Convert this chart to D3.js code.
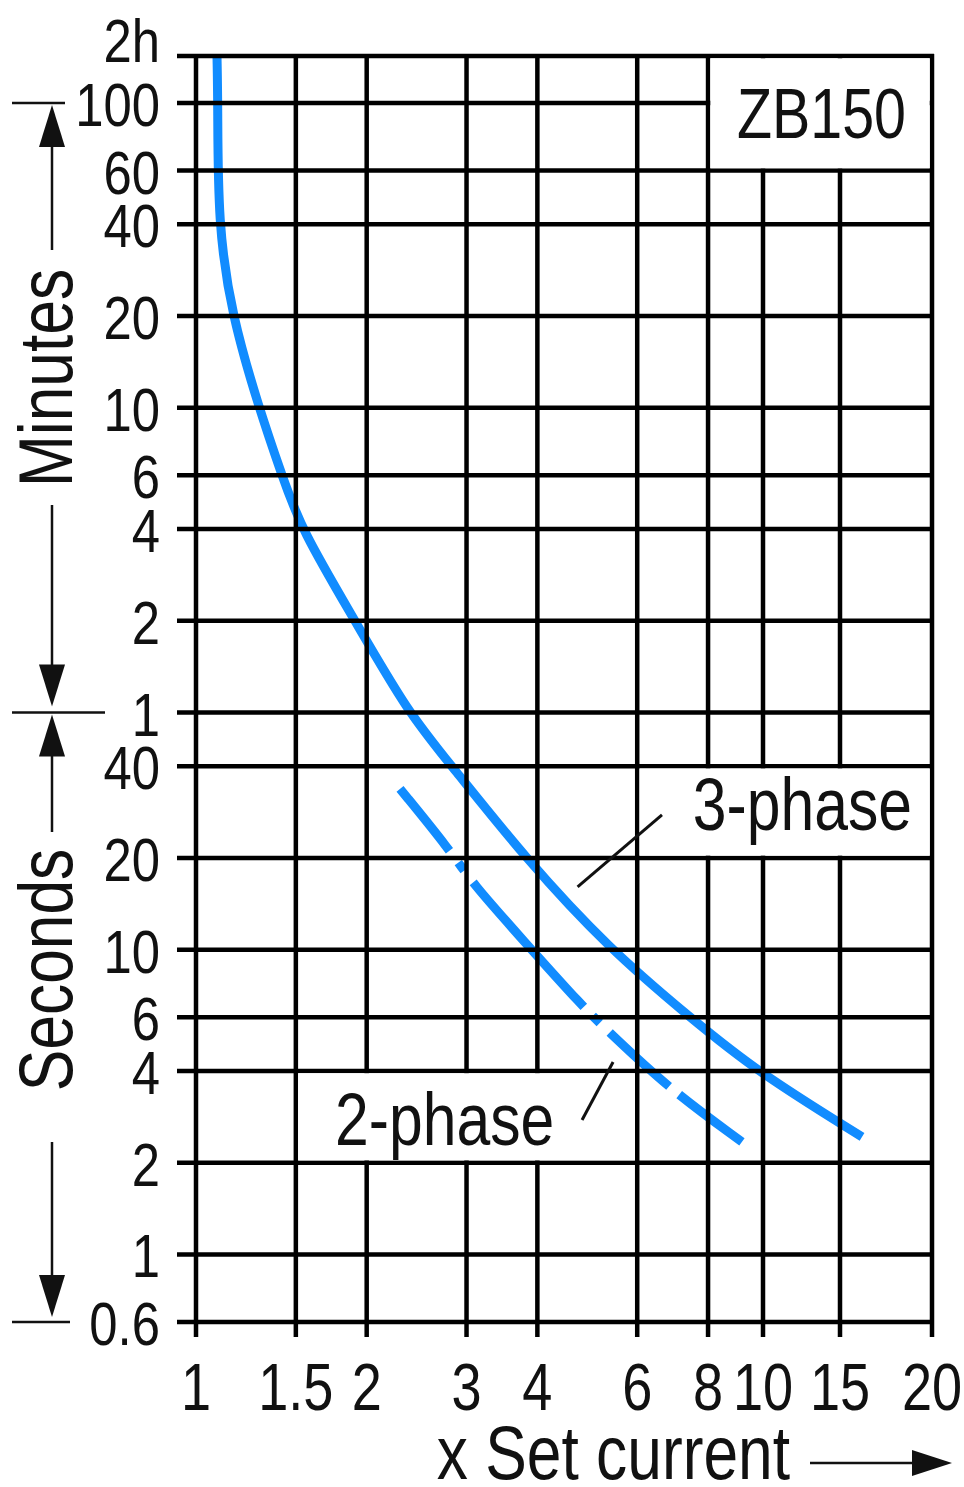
<!DOCTYPE html>
<html><head><meta charset="utf-8">
<script src="https://cdn.jsdelivr.net/npm/d3@7/dist/d3.min.js"></script>
<style>
body{margin:0;background:#fff}
text{font-family:"Liberation Sans",Arial,"DejaVu Sans",sans-serif;fill:#111}
</style>
</head><body>
<svg id="c" width="964" height="1487"></svg>
<script>
// ---- data ----
const xTicks = [1, 1.5, 2, 3, 4, 6, 8, 10, 15, 20];
const xTickLabels = ["1", "1.5", "2", "3", "4", "6", "8", "10", "15", "20"];
// tripping times in seconds
const yTicks = [0.6, 1, 2, 4, 6, 10, 20, 40, 60, 120, 240, 360, 600, 1200, 2400, 3600, 6000, 7200];
const yTickLabels = ["0.6", "1", "2", "4", "6", "10", "20", "40", "1", "2", "4", "6", "10", "20", "40", "60", "100", "2h"];
const threePhaseX = [1.089, 1.093, 1.093, 1.157, 1.291, 1.418, 1.532, 1.908, 2.365, 2.828, 3.804, 5.373, 7.435, 9.72, 16.07];
const threePhaseT = [7200, 6000, 2400, 1200, 600, 360, 240, 120, 60, 40, 20, 10, 6, 4, 2.43];
const twoPhaseX = [2.29, 2.806, 3.068, 3.773, 4.814, 5.373, 6.80, 9.18];
const twoPhaseT = [33.7, 21.2, 16.55, 10.76, 6.48, 5.33, 3.52, 2.34];
const seriesNames = ["3-phase", "2-phase"];
const chartTitle = "ZB150";
const xTitle = "x Set current";
const unitMinutes = "Minutes";
const unitSeconds = "Seconds";

// ---- scales ----
const x = d3.scaleLog().domain([1, 10, 15, 20]).range([196, 763, 840, 932]);
const y = d3.scaleLog().domain([0.6, 6000, 7200]).range([1322, 103, 56]);

const svg = d3.select("#c");
const BLUE = "#118cff";
const INK = "#111";
const NARROW = 0.82;
const gridLeft = 177, gridRight = 934, gridBottom = 1337;

function txt(px, py, s, size, anchor, rot) {
  return svg.append("text")
    .attr("transform", `translate(${px},${py})${rot ? " rotate(-90)" : ""} scale(${NARROW},1)`)
    .attr("text-anchor", anchor).attr("font-size", size).text(s);
}

// ---- curves (below grid) ----
const line = d3.line().x(d => x(d[0])).y(d => y(d[1])).curve(d3.curveBasis);
const three = threePhaseX.map((v, i) => [v, threePhaseT[i]]);
const two = twoPhaseX.map((v, i) => [v, twoPhaseT[i]]);
svg.append("path").attr("d", line(three)).attr("fill", "none")
  .attr("stroke", BLUE).attr("stroke-width", 9);
svg.append("path").attr("d", line(two)).attr("fill", "none")
  .attr("stroke", BLUE).attr("stroke-width", 9)
  .attr("stroke-dasharray", "79 15 10 15 166 13 10 14 80 13 300");

// ---- grid ----
const g = svg.append("g").attr("stroke", "#000").attr("stroke-width", 4.5);
g.selectAll(".h").data(yTicks).join("line")
  .attr("x1", gridLeft).attr("x2", gridRight)
  .attr("y1", d => y(d)).attr("y2", d => y(d));
g.selectAll(".v").data(xTicks).join("line")
  .attr("x1", d => x(d)).attr("x2", d => x(d))
  .attr("y1", y(7200) - 2).attr("y2", gridBottom);

// label boxes (white cells covering grid)
const boxes = [
  [8, 20, 3600, 7200],
  [6, 20, 20, 40],
  [1.5, 6, 2, 4]
];
svg.selectAll(".box").data(boxes).join("rect")
  .attr("x", d => x(d[0]) + 2.3).attr("width", d => x(d[1]) - x(d[0]) - 4.6)
  .attr("y", d => y(d[3]) + 2.3).attr("height", d => y(d[2]) - y(d[3]) - 4.6)
  .attr("fill", "#fff");

// ---- tick labels ----
const yTop = yTicks[yTicks.length - 1];
yTicks.forEach((d, i) => txt(160, y(d) + (d === yTop ? 6 : 23), yTickLabels[i], 62, "end"));
xTicks.forEach((d, i) => txt(x(d), 1410, xTickLabels[i], 66, "middle"));

// ---- annotations ----
txt(906, 138, chartTitle, 70, "end");
txt(912, 830, seriesNames[0], 74, "end");
txt(335, 1145, seriesNames[1], 74, "start");
const leaders = [[[6.635, 27.7], [4.71, 16.06]], [[5.44, 4.28], [4.796, 2.76]]];
svg.selectAll(".ld").data(leaders).join("line")
  .attr("x1", d => x(d[0][0])).attr("y1", d => y(d[0][1]))
  .attr("x2", d => x(d[1][0])).attr("y2", d => y(d[1][1]))
  .attr("stroke", INK).attr("stroke-width", 3);

// ---- left unit brackets ----
const ax = 52;
const lg = svg.append("g").attr("stroke", INK).attr("stroke-width", 2.5);
lg.append("line").attr("x1", 12).attr("x2", 65).attr("y1", y(6000)).attr("y2", y(6000));
lg.append("line").attr("x1", 12).attr("x2", 105).attr("y1", y(60)).attr("y2", y(60));
lg.append("line").attr("x1", 12).attr("x2", 70).attr("y1", y(0.6)).attr("y2", y(0.6));
function arrowHead(tipY, dir) { // dir -1 up, +1 down
  const b = tipY - dir * 42;
  svg.append("path").attr("d", `M${ax},${tipY} L${ax - 13},${b} L${ax + 13},${b} Z`).attr("fill", INK);
}
const mTop = y(6000), mBot = y(60), sBot = y(0.6);
lg.append("line").attr("x1", ax).attr("x2", ax).attr("y1", mTop + 30).attr("y2", 250);
lg.append("line").attr("x1", ax).attr("x2", ax).attr("y1", 505).attr("y2", mBot - 30);
lg.append("line").attr("x1", ax).attr("x2", ax).attr("y1", mBot + 30).attr("y2", 832);
lg.append("line").attr("x1", ax).attr("x2", ax).attr("y1", 1142).attr("y2", sBot - 30);
arrowHead(mTop + 2, -1);
arrowHead(mBot - 6, 1);
arrowHead(mBot + 2, -1);
arrowHead(sBot - 5, 1);
txt(72, 378, unitMinutes, 76, "middle", true);
txt(72, 970, unitSeconds, 76, "middle", true);

// ---- x title ----
txt(790, 1479, xTitle, 76, "end");
svg.append("line").attr("x1", 810).attr("x2", 915).attr("y1", 1463).attr("y2", 1463)
  .attr("stroke", INK).attr("stroke-width", 2.5);
svg.append("path").attr("d", "M952,1463 L912,1450 L912,1476 Z").attr("fill", INK);
</script>
</body></html>
